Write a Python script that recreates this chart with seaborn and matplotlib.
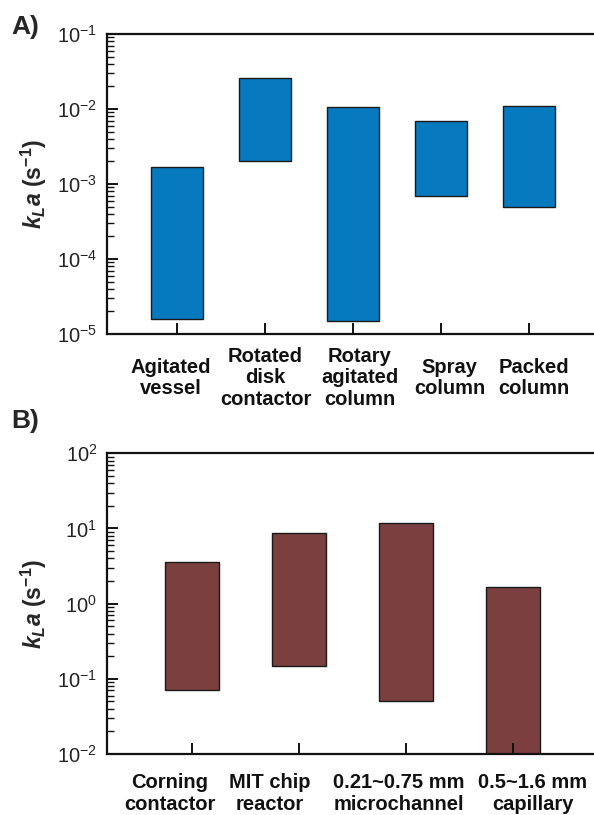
import numpy as np
import pandas as pd
import matplotlib
matplotlib.use("Agg")
import matplotlib.pyplot as plt
from matplotlib.ticker import LogLocator, LogFormatterSciNotation, NullFormatter
import seaborn as sns

# Panel A: conventional contactors
reactors_a = ["Agitated\nvessel", "Rotated\ndisk\ncontactor", "Rotary\nagitated\ncolumn",
              "Spray\ncolumn", "Packed\ncolumn"]
kla_low_a = [1.6e-5, 2.0e-3, 1.5e-5, 7.0e-4, 5.0e-4]
kla_high_a = [1.7e-3, 2.6e-2, 1.05e-2, 6.9e-3, 1.1e-2]

# Panel B: microreactors
reactors_b = ["Corning\ncontactor", "MIT chip\nreactor", "0.21~0.75 mm\nmicrochannel",
              "0.5~1.6 mm\ncapillary"]
kla_low_b = [0.072, 0.15, 0.051, 0.01]
kla_high_b = [3.6, 8.8, 12.0, 1.65]

# horizontal nudges of the category captions (in category units)
label_shift_a = [-0.074, 0.006, 0.08, 0.097, 0.057]
label_shift_b = [-0.206, -0.271, -0.065, 0.187]

sns.set_theme(style="ticks")
plt.rcParams["font.family"] = ["Liberation Sans", "DejaVu Sans"]
plt.rcParams["mathtext.fontset"] = "custom"
plt.rcParams["mathtext.it"] = "Liberation Sans:italic:bold"
plt.rcParams["mathtext.bf"] = "Liberation Sans:bold"
plt.rcParams["mathtext.rm"] = "Liberation Sans"
plt.rcParams["mathtext.default"] = "regular"
plt.rcParams["axes.unicode_minus"] = False

fig = plt.figure(figsize=(5.94, 8.15), dpi=100)
W, H = 594, 815


def add_axes_px(x0, y0, x1, y1):
    return fig.add_axes([x0 / W, 1 - y1 / H, (x1 - x0) / W, (y1 - y0) / H])


def range_panel(ax, cats, low, high, color, width, ylim, xlim, shifts, ydrop):
    df = pd.DataFrame({"reactor": cats, "span": np.array(high) - np.array(low)})
    sns.barplot(data=df, x="reactor", y="span", bottom=low, color=color,
                width=width, edgecolor="#1a1a1a", linewidth=1.0, saturation=1,
                ax=ax, zorder=1)
    ax.set_yscale("log")
    ax.set_ylim(*ylim)
    ax.set_xlim(*xlim)
    ax.yaxis.set_major_locator(LogLocator(base=10, numticks=10))
    ax.yaxis.set_minor_locator(LogLocator(base=10, subs=np.arange(2, 10), numticks=10))
    ax.yaxis.set_major_formatter(LogFormatterSciNotation())
    ax.yaxis.set_minor_formatter(NullFormatter())
    for s in ["left", "bottom", "top"]:
        ax.spines[s].set_linewidth(1.6)
        ax.spines[s].set_color("#111111")
    ax.spines["right"].set_visible(False)
    ax.tick_params(axis="y", which="major", direction="in", length=8, width=1.4,
                   labelsize=14.5, colors="#111111", labelcolor="#222222", pad=7)
    ax.tick_params(axis="y", which="minor", direction="in", length=5, width=1.0,
                   colors="#111111")
    ax.tick_params(axis="x", which="major", direction="in", length=8, width=1.4,
                   colors="#111111", labelbottom=False)
    # category captions, centred below each bar with a small nudge
    for i, (name, dx) in enumerate(zip(cats, shifts)):
        ax.annotate(name, xy=(i + dx, 0), xycoords=("data", "axes fraction"),
                    xytext=(0, -ydrop), textcoords="offset points",
                    ha="center", va="center", fontsize=14.5, fontweight="bold",
                    color="#111111", linespacing=1.15, annotation_clip=False)
    ax.set_xlabel("")
    ax.set_ylabel(r"$\mathit{k}_{\mathit{L}}\mathit{a}$ (s$^{-1}$)", fontsize=16.5,
                  fontweight="bold", labelpad=6)
    ax.set_axisbelow(False)


ax_a = add_axes_px(107, 34, 594, 334)
range_panel(ax_a, reactors_a, kla_low_a, kla_high_a, "#0679BF", 0.6,
            (1e-5, 1e-1), (-0.795, 4.739), label_shift_a, 31.5)

ax_b = add_axes_px(107, 453.3, 594, 754)
range_panel(ax_b, reactors_b, kla_low_b, kla_high_b, "#7B3F40", 0.5,
            (1e-2, 1e2), (-0.794, 3.757), label_shift_b, 28.5)

fig.text(11 / W, 1 - 27 / H, "A)", fontsize=19, fontweight="bold", va="center", ha="left")
fig.text(11 / W, 1 - 421 / H, "B)", fontsize=19, fontweight="bold", va="center", ha="left")

fig.savefig("out.png", dpi=100, facecolor="white")
